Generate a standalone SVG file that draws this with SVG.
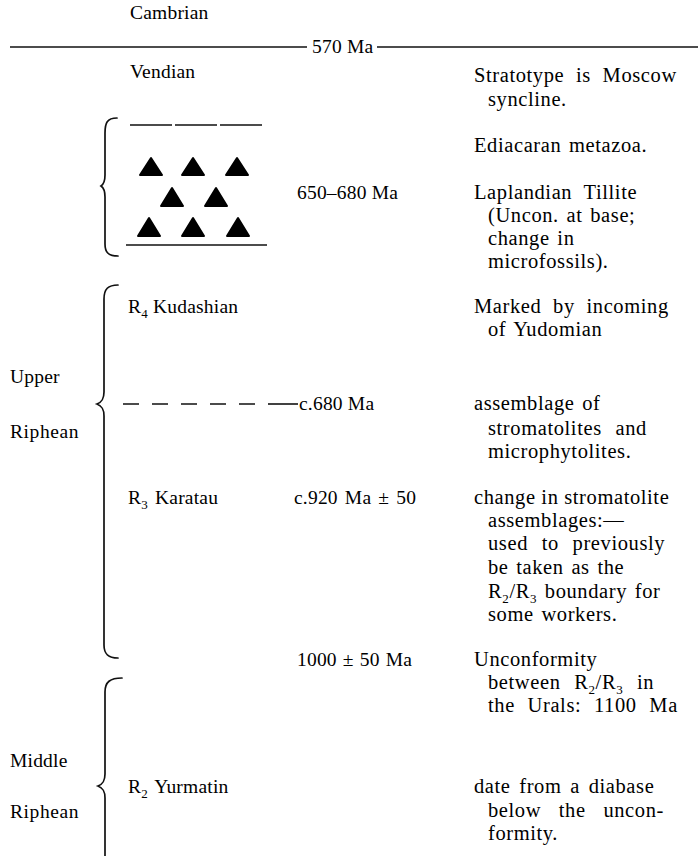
<svg xmlns="http://www.w3.org/2000/svg" width="698" height="856" viewBox="0 0 698 856">
<style>
.a{font-family:"Liberation Serif","Times New Roman",serif;font-size:19.5px;letter-spacing:0.2px;fill:#000}
.b{font-family:"Liberation Serif","Times New Roman",serif;font-size:20.5px;letter-spacing:0.6px;word-spacing:2px;fill:#000}
.s{font-size:13px}
.ln{stroke:#111;stroke-width:1.6;fill:none}
.br{stroke:#111;stroke-width:1.7;fill:none;stroke-linecap:round}
.tri{fill:#000;stroke:#000;stroke-width:2;stroke-linejoin:round}
</style>
<rect width="698" height="856" fill="#fff"/>
<g id="lines">
<line class="ln" x1="10" y1="47" x2="307" y2="47"/>
<line class="ln" x1="377" y1="47" x2="698" y2="47"/>
<line class="ln" x1="130" y1="125" x2="262" y2="125" stroke-dasharray="42,3"/>
<line class="ln" x1="126" y1="245" x2="267" y2="245"/>
<line class="ln" x1="123" y1="404" x2="268" y2="404" stroke-dasharray="16,13"/>
<line class="ln" x1="268" y1="404" x2="298" y2="404"/>
</g>
<g id="brackets">
<path class="br" d="M117,118 C107,118 105,123 105,133 L105,175 C105,181 104,184 101,186 C104,188 105,191 105,197 L105,244 C105,252 108,256 118,256"/>
<path class="br" d="M118,285 C108,285 104,289 104,299 L104,392 C104,399 102,402 97,404 C102,406 104,409 104,416 L104,645 C104,654 108,658 118,658"/>
<path class="br" d="M122,678 C110,678 105,682 105,692 L105,774 C105,781 103,784 98,786 C103,788 105,791 105,798 L105,860"/>
</g>
<g id="tillite">
<polygon class="tri" points="151,158 140,175 162,175"/>
<polygon class="tri" points="193,158 182,175 204,175"/>
<polygon class="tri" points="237,158 226,175 248,175"/>
<polygon class="tri" points="172,188 161,206 183,206"/>
<polygon class="tri" points="216,188 205,206 227,206"/>
<polygon class="tri" points="149,218 138,236 160,236"/>
<polygon class="tri" points="193,218 182,236 204,236"/>
<polygon class="tri" points="238,218 227,236 249,236"/>
</g>
<g id="col1">
<text class="a" x="130" y="19">Cambrian</text>
<text class="a" x="130" y="78">Vendian</text>
<text class="a" x="128" y="313">R<tspan class="s" dy="5">4</tspan><tspan dy="-5"> Kudashian</tspan></text>
<text class="a" x="128" y="504" style="word-spacing:2px">R<tspan class="s" dy="5">3</tspan><tspan dy="-5"> Karatau</tspan></text>
<text class="a" x="128" y="793" style="word-spacing:2px">R<tspan class="s" dy="5">2</tspan><tspan dy="-5"> Yurmatin</tspan></text>
</g>
<g id="labels">
<text class="a" x="10" y="383">Upper</text>
<text class="a" x="10" y="438" style="letter-spacing:0.6px">Riphean</text>
<text class="a" x="10" y="767">Middle</text>
<text class="a" x="10" y="818" style="letter-spacing:0.6px">Riphean</text>
</g>
<g id="col2">
<text class="a" x="312" y="53">570 Ma</text>
<text class="a" x="297" y="199">650–680 Ma</text>
<text class="a" x="299" y="410">c.680 Ma</text>
<text class="a" x="294" y="504" style="word-spacing:2px">c.920 Ma ± 50</text>
<text class="a" x="297" y="666" style="word-spacing:1px">1000 ± 50 Ma</text>
</g>
<g id="col3">
<text class="b" x="474" y="82" style="word-spacing:6px">Stratotype is Moscow</text>
<text class="b" x="488" y="106">syncline.</text>
<text class="b" x="474" y="152">Ediacaran metazoa.</text>
<text class="b" x="474" y="199" style="word-spacing:6px">Laplandian Tillite</text>
<text class="b" x="488" y="222">(Uncon. at base;</text>
<text class="b" x="488" y="245">change in</text>
<text class="b" x="488" y="268">microfossils).</text>
<text class="b" x="474" y="313" style="word-spacing:6px">Marked by incoming</text>
<text class="b" x="488" y="336">of Yudomian</text>
<text class="b" x="474" y="410">assemblage of</text>
<text class="b" x="488" y="435" style="word-spacing:8px">stromatolites and</text>
<text class="b" x="488" y="458">microphytolites.</text>
<text class="b" x="474" y="504" style="word-spacing:0px">change in stromatolite</text>
<text class="b" x="488" y="527">assemblages:—</text>
<text class="b" x="488" y="550" style="word-spacing:8px">used to previously</text>
<text class="b" x="488" y="574">be taken as the</text>
<text class="b" x="488" y="598">R<tspan class="s" dy="5">2</tspan><tspan dy="-5">/R</tspan><tspan class="s" dy="5">3</tspan><tspan dy="-5"> boundary for</tspan></text>
<text class="b" x="488" y="621">some workers.</text>
<text class="b" x="474" y="666">Unconformity</text>
<text class="b" x="488" y="689" style="word-spacing:8px">between R<tspan class="s" dy="5">2</tspan><tspan dy="-5">/R</tspan><tspan class="s" dy="5">3</tspan><tspan dy="-5"> in</tspan></text>
<text class="b" x="488" y="712" style="word-spacing:7px">the Urals: 1100 Ma</text>
<text class="b" x="474" y="793" style="word-spacing:3px">date from a diabase</text>
<text class="b" x="488" y="817" style="word-spacing:12px">below the uncon-</text>
<text class="b" x="488" y="840">formity.</text>
</g>
</svg>
